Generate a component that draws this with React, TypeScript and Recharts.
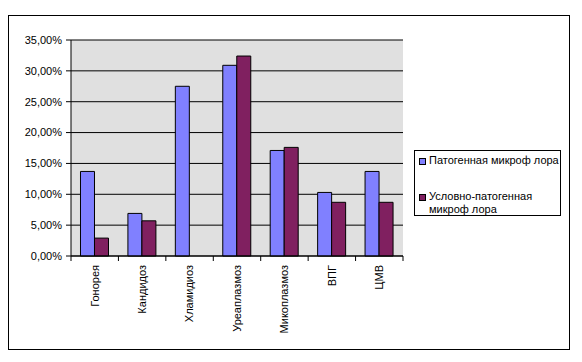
import React from "react";
import { BarChart, Bar, XAxis, YAxis, CartesianGrid, Legend } from "recharts";

const categories = ["Гонорея", "Кандидоз", "Хламидиоз", "Уреаплазмоз", "Микоплазмоз", "ВПГ", "ЦМВ"];
const pathogenic = [13.7, 6.9, 27.5, 30.9, 17.1, 10.3, 13.7];
const conditional = [2.9, 5.7, 0, 32.4, 17.6, 8.7, 8.7];
const yTicks = [0, 5, 10, 15, 20, 25, 30, 35];
const seriesNames = ["Патогенная микроф лора", "Условно-патогенная микроф лора"];
const seriesLegendLines = [["Патогенная микроф лора"], ["Условно-патогенная", "микроф лора"]];

const COLORS = ["#8080FF", "#802060"];
const FONT = "'Liberation Sans', Arial, sans-serif";

const data = categories.map((name, i) => ({ name, a: pathogenic[i], b: conditional[i] }));

const fmt = (v: number) => v.toFixed(2).replace(".", ",") + "%";

const CatTick = (props: any) => {
  const { x, y, payload, index, visibleTicksCount } = props;
  const off = payload && payload.offset != null ? payload.offset : 0;
  const isLast = index === visibleTicksCount - 1;
  return (
    <g>
      <line x1={x - off} x2={x - off} y1={y} y2={y + 5} stroke="#000" strokeWidth={1} />
      {isLast && <line x1={x + off} x2={x + off} y1={y} y2={y + 5} stroke="#000" strokeWidth={1} />}
      <text
        x={x}
        y={y + 9}
        transform={`rotate(-90, ${x}, ${y + 9})`}
        textAnchor="end"
        dy="0.35em"
        fontFamily={FONT}
        fontSize={11}
        fill="#000"
      >
        {payload.value}
      </text>
    </g>
  );
};

const LegendBox = () => (
  <div
    style={{
      position: "relative",
      width: 147,
      height: 66,
      border: "1px solid #000",
      boxSizing: "border-box",
      background: "#fff",
      fontFamily: FONT,
      fontSize: 11,
      color: "#000",
    }}
  >
    {seriesNames.map((n, i) => (
      <div key={n}>
        <div
          style={{
            position: "absolute",
            left: 4,
            top: i === 0 ? 7 : 43,
            width: 7,
            height: 7,
            background: COLORS[i],
            border: "1px solid #000",
            boxSizing: "border-box",
          }}
        />
        <div
          style={{
            position: "absolute",
            left: 14,
            top: i === 0 ? 3 : 39,
            lineHeight: "12.5px",
            whiteSpace: "nowrap",
          }}
        >
          {seriesLegendLines[i].map((l) => (
            <div key={l}>{l}</div>
          ))}
        </div>
      </div>
    ))}
  </div>
);

export default function App() {
  return (
    <div style={{ position: "relative", width: 574, height: 346 }}>
      <div
        style={{
          position: "absolute",
          left: 0,
          top: 7,
          width: 562,
          height: 335,
          border: "1px solid #000",
          boxSizing: "border-box",
        }}
      />
      <div style={{ position: "absolute", left: 0, top: 0 }}>
        <BarChart
          width={574}
          height={346}
          data={data}
          margin={{ top: 32, right: 179, bottom: 8, left: 0 }}
          barCategoryGap="20%"
          barGap={0}
        >
          <CartesianGrid
            xAxisId="main"
            yAxisId="left"
            vertical={false}
            stroke="#000"
            fill="#E0E0E0"
            fillOpacity={1}
          />
          <XAxis
            xAxisId="top"
            orientation="top"
            dataKey="name"
            height={0}
            tick={false}
            tickLine={false}
            axisLine={{ stroke: "#808080" }}
          />
          <XAxis
            xAxisId="main"
            dataKey="name"
            height={90}
            interval={0}
            tickSize={0}
            tickMargin={0}
            tickLine={false}
            axisLine={{ stroke: "#000" }}
            tick={<CatTick />}
          />
          <YAxis
            yAxisId="left"
            width={63}
            domain={[0, 35]}
            ticks={yTicks}
            interval={0}
            tickFormatter={fmt}
            tickSize={5}
            tickMargin={4}
            axisLine={{ stroke: "#000" }}
            tickLine={{ stroke: "#000" }}
            tick={{ fill: "#000", fontSize: 11, fontFamily: FONT }}
          />
          <YAxis
            yAxisId="right"
            orientation="right"
            width={0}
            domain={[0, 35]}
            tick={false}
            tickLine={false}
            axisLine={{ stroke: "#808080" }}
          />
          <Legend
            layout="horizontal"
            verticalAlign="middle"
            align="center"
            content={<LegendBox />}
            wrapperStyle={{ position: "absolute", left: 406, top: 142, width: 147, height: 66 }}
          />
          <Bar
            xAxisId="main"
            yAxisId="left"
            dataKey="a"
            name={seriesNames[0]}
            fill={COLORS[0]}
            stroke="#000"
            strokeWidth={1}
            isAnimationActive={false}
          />
          <Bar
            xAxisId="main"
            yAxisId="left"
            dataKey="b"
            name={seriesNames[1]}
            fill={COLORS[1]}
            stroke="#000"
            strokeWidth={1}
            isAnimationActive={false}
          />
        </BarChart>
      </div>
    </div>
  );
}
